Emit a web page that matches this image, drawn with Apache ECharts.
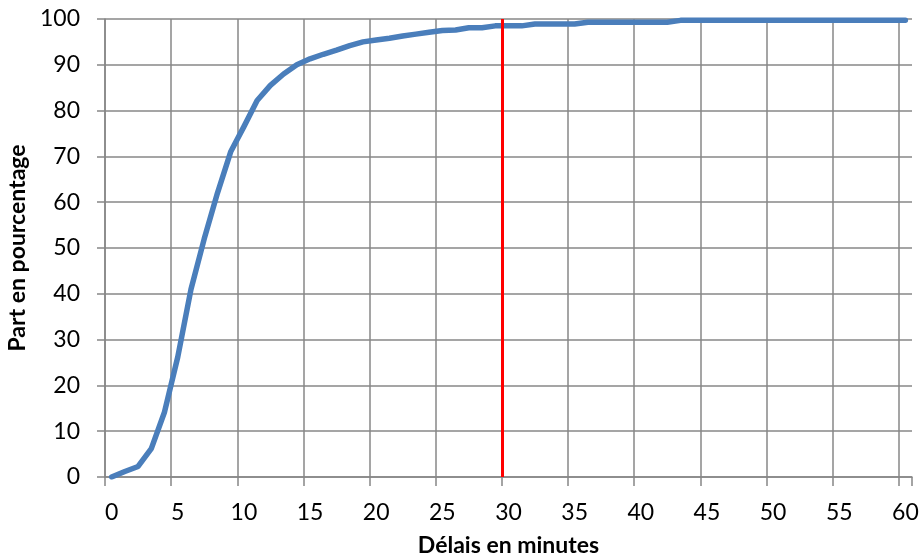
<!DOCTYPE html>
<html>
<head>
<meta charset="utf-8">
<script src="https://cdn.jsdelivr.net/npm/echarts@6/dist/echarts.min.js"></script>
<style>
    html, body { margin: 0; padding: 0; background: #fff; }
    #chart { width: 922px; height: 558px; }
</style>
</head>
<body>
<div id="chart"></div>
<script>
// délais en minutes (catégories)
const minutes = [
    "0", "1", "2", "3", "4", "5", "6", "7", "8", "9",
    "10", "11", "12", "13", "14", "15", "16", "17", "18", "19",
    "20", "21", "22", "23", "24", "25", "26", "27", "28", "29",
    "30", "31", "32", "33", "34", "35", "36", "37", "38", "39",
    "40", "41", "42", "43", "44", "45", "46", "47", "48", "49",
    "50", "51", "52", "53", "54", "55", "56", "57", "58", "59", "60"
];
// part cumulée en pourcentage
const share = [
    0, 1.2, 2.3, 6.2, 14.2, 26.2, 41, 52, 62, 71,
    76.5, 82.2, 85.5, 88, 90, 91.3, 92.3, 93.2, 94.2, 95,
    95.4, 95.8, 96.3, 96.7, 97.1, 97.5, 97.6, 98.1, 98.1, 98.5,
    98.5, 98.5, 98.9, 98.9, 98.9, 98.9, 99.3, 99.3, 99.3, 99.3,
    99.3, 99.3, 99.3, 99.7, 99.7, 99.7, 99.7, 99.7, 99.7, 99.7,
    99.7, 99.7, 99.7, 99.7, 99.7, 99.7, 99.7, 99.7, 99.7, 99.7, 99.7
];
// seuil des 30 minutes (trait rouge)
const threshold = 30;
const yMin = 0, yMax = 100, yStep = 10;

const gridColor = "#878787";
const font = "Lato";

const chart = echarts.init(document.getElementById("chart"));
chart.setOption({
    animation: false,
    grid: { left: 105, right: 10, top: 19, bottom: 81, outerBoundsMode: "none", containLabel: false },
    xAxis: [
        {
            type: "category",
            data: minutes,
            boundaryGap: true,
            name: "Délais en minutes",
            nameLocation: "middle",
            nameGap: 57,
            nameTextStyle: { fontFamily: font, fontSize: 23, fontWeight: "bold", color: "#000" },
            axisLine: { show: true, lineStyle: { color: gridColor, width: 1.5 } },
            axisTick: { show: true, interval: 4, length: 9, lineStyle: { color: gridColor, width: 1.5 } },
            axisLabel: { interval: 4, margin: 24, fontFamily: font, fontSize: 23, color: "#000" },
            splitLine: { show: true, interval: 4, showMaxLine: false, lineStyle: { color: gridColor, width: 1.5 } },
        },
        {
            // axe caché pour placer le trait à la limite de la 30e minute
            type: "value",
            min: 0,
            max: minutes.length,
            show: false,
        },
    ],
    yAxis: {
        type: "value",
        min: yMin,
        max: yMax,
        interval: yStep,
        name: "Part en pourcentage",
        nameLocation: "middle",
        nameGap: 76,
        nameTextStyle: { fontFamily: font, fontSize: 23, fontWeight: "bold", color: "#000" },
        axisLine: { show: true, lineStyle: { color: gridColor, width: 1.5 } },
        axisTick: { show: true, length: 8, lineStyle: { color: gridColor, width: 1.5 } },
        axisLabel: { margin: 25, fontFamily: font, fontSize: 23, color: "#000" },
        splitLine: { show: true, lineStyle: { color: gridColor, width: 1.5 } },
    },
    series: [
        {
            type: "line",
            data: share,
            symbol: "none",
            lineStyle: { color: "#4a7ebb", width: 5.5, join: "round", cap: "round" },
            z: 3,
        },
        {
            type: "line",
            xAxisIndex: 1,
            data: [],
            markLine: {
                silent: true,
                symbol: ["none", "none"],
                label: { show: false },
                lineStyle: { color: "#ff0000", width: 3, type: "solid" },
                data: [{ xAxis: threshold }],
            },
            z: 4,
        },
    ],
});
</script>
</body>
</html>
